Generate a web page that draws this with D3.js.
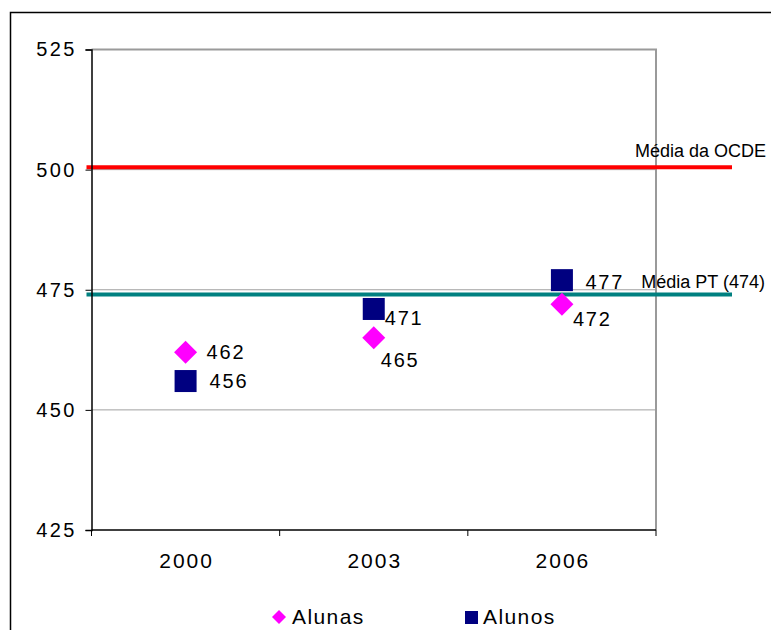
<!DOCTYPE html>
<html>
<head>
<meta charset="utf-8">
<script src="https://cdn.jsdelivr.net/npm/d3@7/dist/d3.min.js"></script>
<style>
  html, body { margin: 0; padding: 0; background: #fff; }
  svg { display: block; }
  text { font-family: "Liberation Sans", Arial, sans-serif; fill: #000; }
</style>
</head>
<body>
<svg id="chart" width="771" height="630"></svg>
<script>
// ---- data ----
const categories = ["2000", "2003", "2006"];
const alunas = [462, 465, 472];
const alunos = [456, 471, 477];
const yTicks = [425, 450, 475, 500, 525];
const mediaOCDE = 500.5;
const mediaPT = 474;
const seriesNames = ["Alunas", "Alunos"];
const refLabels = ["Média da OCDE", "Média PT (474)"];

// ---- layout ----
const W = 771, H = 630;
const plot = { left: 91.5, right: 656, top: 49.5, bottom: 530 };
// data label offsets (dx, dy) relative to marker centres
const alunasLabelOff = [[21, 6.5], [7, 29.5], [11, 22]];
const alunosLabelOff = [[24, 7], [11, 16.5], [23.5, 8.5]];

const svg = d3.select("#chart");

const x = d3.scaleBand().domain(categories).range([plot.left, plot.right]).padding(0);
const y = d3.scaleLinear().domain([425, 525]).range([plot.bottom, plot.top]);

// outer chart border
svg.append("rect")
  .attr("x", 10.5).attr("y", 12.5)
  .attr("width", W + 20).attr("height", H + 20)
  .attr("fill", "none").attr("stroke", "#000").attr("stroke-width", 1.5);

// gridlines
svg.append("g").selectAll("line")
  .data(yTicks.filter(t => t > 425 && t < 525))
  .join("line")
  .attr("x1", plot.left).attr("x2", plot.right)
  .attr("y1", d => y(d)).attr("y2", d => y(d))
  .attr("stroke", "#a0a0a0").attr("stroke-width", 1);

// plot area top and right border (gray)
svg.append("path")
  .attr("d", `M${plot.left},${y(525)}H${plot.right}V${plot.bottom}`)
  .attr("fill", "none").attr("stroke", "#9a9a9a").attr("stroke-width", 2);

// reference lines
const xEndRef = 732;
svg.append("line")
  .attr("x1", plot.left - 5).attr("x2", xEndRef)
  .attr("y1", y(mediaOCDE)).attr("y2", y(mediaOCDE))
  .attr("stroke", "#ff0000").attr("stroke-width", 4);
svg.append("line")
  .attr("x1", plot.left - 5).attr("x2", xEndRef)
  .attr("y1", y(mediaPT)).attr("y2", y(mediaPT))
  .attr("stroke", "#008080").attr("stroke-width", 4);

// y axis
const yAxis = d3.axisLeft(y).tickValues(yTicks).tickSize(6).tickPadding(11);
const gy = svg.append("g").attr("transform", `translate(${plot.left},0)`).call(yAxis);
gy.select(".domain").attr("stroke", "#000").attr("stroke-width", 1.5);
gy.selectAll(".tick line").attr("stroke", "#000").attr("stroke-width", 1);
gy.selectAll(".tick text")
  .style("font-family", '"Liberation Sans", Arial, sans-serif')
  .style("font-size", "20px").style("letter-spacing", "2.4px")
  .attr("dx", "2.4px").attr("fill", "#000");

// x axis (ticks at category boundaries)
svg.append("line")
  .attr("x1", plot.left).attr("x2", plot.right)
  .attr("y1", plot.bottom).attr("y2", plot.bottom)
  .attr("stroke", "#000").attr("stroke-width", 1.5);
const boundaries = categories.map(c => x(c)).concat([x(categories[categories.length - 1]) + x.bandwidth()]);
svg.append("g").selectAll("line")
  .data(boundaries)
  .join("line")
  .attr("x1", d => d).attr("x2", d => d)
  .attr("y1", plot.bottom).attr("y2", plot.bottom + 6)
  .attr("stroke", "#000").attr("stroke-width", 1);
svg.append("g").selectAll("text")
  .data(categories)
  .join("text")
  .attr("x", d => x(d) + x.bandwidth() / 2 + 1)
  .attr("y", 568)
  .attr("text-anchor", "middle")
  .style("font-size", "21px").style("letter-spacing", "2px")
  .text(d => d);

// markers
const cx = d => x(d) + x.bandwidth() / 2;
const sq = 22, dia = 11.5;

svg.append("g").selectAll("path")
  .data(categories.map((c, i) => ({ c, v: alunas[i] })))
  .join("path")
  .attr("d", d => {
    const X = cx(d.c), Y = y(d.v);
    return `M${X},${Y - dia}L${X + dia},${Y}L${X},${Y + dia}L${X - dia},${Y}Z`;
  })
  .attr("fill", "#ff00ff");

svg.append("g").selectAll("rect")
  .data(categories.map((c, i) => ({ c, v: alunos[i] })))
  .join("rect")
  .attr("x", d => cx(d.c) - sq / 2).attr("y", d => y(d.v) - sq / 2)
  .attr("width", sq).attr("height", sq)
  .attr("fill", "#000080");

// data labels
function labels(vals, offs) {
  svg.append("g").selectAll("text")
    .data(categories.map((c, i) => ({ c, v: vals[i], o: offs[i] })))
    .join("text")
    .attr("x", d => cx(d.c) + d.o[0])
    .attr("y", d => y(d.v) + d.o[1])
    .style("font-size", "20px").style("letter-spacing", "1.8px")
    .text(d => d.v);
}
labels(alunas, alunasLabelOff);
labels(alunos, alunosLabelOff);

// reference labels
svg.append("text")
  .attr("x", 766).attr("y", 157)
  .attr("text-anchor", "end")
  .style("font-size", "18px")
  .text(refLabels[0]);
svg.append("text")
  .attr("x", 765).attr("y", 287.5)
  .attr("text-anchor", "end")
  .style("font-size", "18px")
  .text(refLabels[1]);

// legend
const lg = svg.append("g");
const ly = 617;
lg.append("path")
  .attr("d", `M279,${ly - 7}L286,${ly}L279,${ly + 7}L272,${ly}Z`)
  .attr("fill", "#ff00ff");
lg.append("text").attr("x", 292).attr("y", 624)
  .style("font-size", "21px").style("letter-spacing", "1.4px")
  .text(seriesNames[0]);
lg.append("rect").attr("x", 465).attr("y", 611).attr("width", 13).attr("height", 13)
  .attr("fill", "#000080");
lg.append("text").attr("x", 483).attr("y", 624)
  .style("font-size", "21px").style("letter-spacing", "1.4px")
  .text(seriesNames[1]);
</script>
</body>
</html>
